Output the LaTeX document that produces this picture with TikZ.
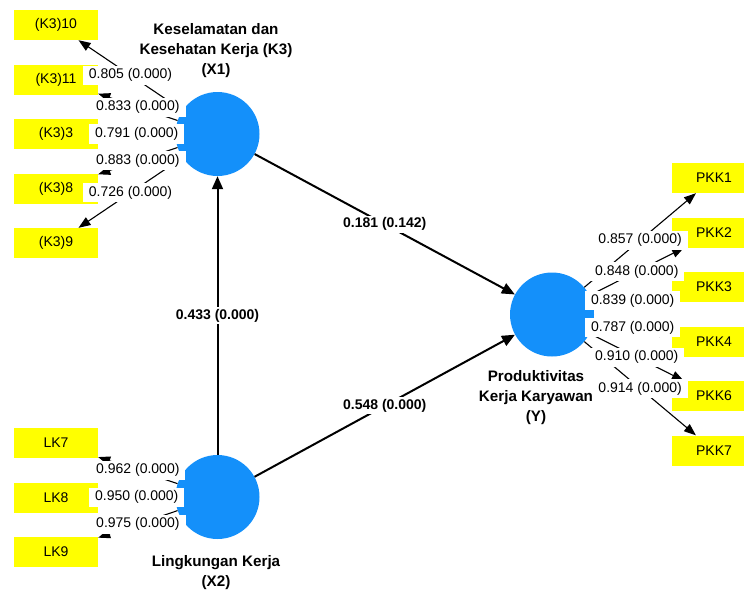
\documentclass[tikz,border=0pt]{standalone}
\usepackage{fontspec}
\setmainfont{Liberation Sans}
\usetikzlibrary{arrows.meta}
\definecolor{lvblue}{RGB}{20,144,250}
\definecolor{indyellow}{RGB}{255,255,0}
\begin{document}
\begin{tikzpicture}[x=1pt,y=-1pt,
 lv/.style={circle,fill=lvblue,minimum size=84pt,inner sep=0pt},
 ind/.style={rectangle,fill=indyellow,minimum width=84pt,minimum height=30pt,inner sep=0pt,font=\fontsize{14}{16}\selectfont},
 lvlab/.style={align=center,font=\bfseries\fontsize{15.2}{20}\selectfont},
 loadarr/.style={line width=1.1pt,-{Triangle[length=12pt,width=9pt]}},
 patharr/.style={line width=2pt,-{Triangle[length=13pt,width=11pt]}},
 loadlab/.style={fill=white,inner xsep=6pt,inner ysep=3pt,font=\fontsize{14}{16}\selectfont},
 pathlab/.style={fill=white,inner xsep=3pt,inner ysep=2pt,font=\bfseries\fontsize{14}{16}\selectfont},
]
\useasboundingbox (0,0) rectangle (744,592);
% latent variables
\node[lv] (X1) at (217.5,134) {};
\node[lv] (X2) at (217.5,497) {};
\node[lv] (Y) at (552,314.5) {};
% indicators
\node[ind] (k10) at (56,25) {(K3)10};
\node[ind] (k11) at (56,79.5) {(K3)11};
\node[ind] (k3) at (56,134) {(K3)3};
\node[ind] (k8) at (56,188.5) {(K3)8};
\node[ind] (k9) at (56,243) {(K3)9};
\node[ind] (lk7) at (56,443) {LK7};
\node[ind] (lk8) at (56,497.5) {LK8};
\node[ind] (lk9) at (56,552) {LK9};
\node[ind] (p1) at (714,178) {PKK1};
\node[ind] (p2) at (714,232.5) {PKK2};
\node[ind] (p3) at (714,287) {PKK3};
\node[ind] (p4) at (714,341.5) {PKK4};
\node[ind] (p6) at (714,396) {PKK6};
\node[ind] (p7) at (714,450.5) {PKK7};
% construct labels
\node[lvlab] (lx1) at (216,51) {Keselamatan dan\\Kesehatan Kerja (K3)\\(X1)};
\node[lvlab] (lx2) at (216,572.5) {Lingkungan Kerja\\(X2)};
\node[lvlab] (ly) at (536,398) {Produktivitas\\Kerja Karyawan\\(Y)};
% connectors
\foreach \t in {k10,k11,k3,k8,k9} \draw[loadarr] (X1) -- (\t);
\foreach \t in {lk7,lk8,lk9} \draw[loadarr] (X2) -- (\t);
\foreach \t in {p1,p2,p3,p4,p6,p7} \draw[loadarr] (Y) -- (\t);
\draw[patharr] (X1) -- (Y);
\draw[patharr] (X2) -- (Y);
\draw[patharr] (X2) -- (X1);
% labels
\path (X1) -- (k10) node[loadlab,midway] {0.805 (0.000)};
\path (X1) -- (k11) node[loadlab,midway] {0.833 (0.000)};
\path (X1) -- (k3) node[loadlab,midway] {0.791 (0.000)};
\path (X1) -- (k8) node[loadlab,midway] {0.883 (0.000)};
\path (X1) -- (k9) node[loadlab,midway] {0.726 (0.000)};
\path (X2) -- (lk7) node[loadlab,midway] {0.962 (0.000)};
\path (X2) -- (lk8) node[loadlab,midway] {0.950 (0.000)};
\path (X2) -- (lk9) node[loadlab,midway] {0.975 (0.000)};
\path (Y) -- (p1) node[loadlab,midway] {0.857 (0.000)};
\path (Y) -- (p2) node[loadlab,midway] {0.848 (0.000)};
\path (Y) -- (p3) node[loadlab,midway] {0.839 (0.000)};
\path (Y) -- (p4) node[loadlab,midway] {0.787 (0.000)};
\path (Y) -- (p6) node[loadlab,midway] {0.910 (0.000)};
\path (Y) -- (p7) node[loadlab,midway] {0.914 (0.000)};
\path (X1) -- (Y) node[pathlab,midway] {0.181 (0.142)};
\path (X2) -- (Y) node[pathlab,midway] {0.548 (0.000)};
\path (X2) -- (X1) node[pathlab,midway] {0.433 (0.000)};
\end{tikzpicture}
\end{document}
